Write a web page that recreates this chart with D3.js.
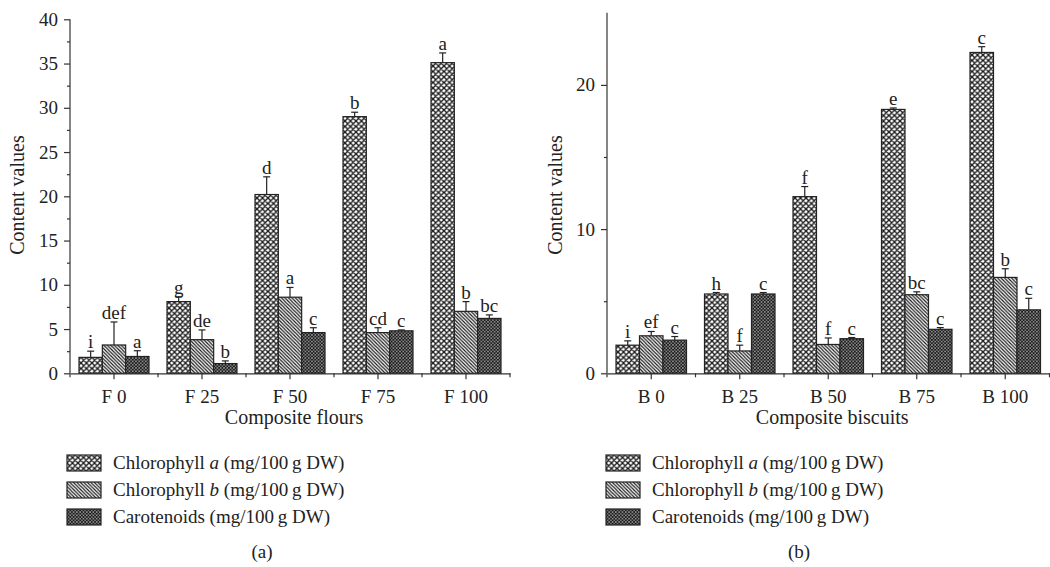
<!DOCTYPE html>
<html>
<head>
<meta charset="utf-8">
<script src="https://cdn.jsdelivr.net/npm/d3@7"></script>
<style>
  body { margin: 0; background: #fff; }
  text { font-family: "Liberation Serif", "DejaVu Serif", serif; fill: #222; }
  .domain, .tick line { stroke: #333; stroke-width: 1.2; }
</style>
</head>
<body>
<div class="container"></div>
<script>
// categories
const flourCats = ['F 0', 'F 25', 'F 50', 'F 75', 'F 100'];
const biscuitCats = ['B 0', 'B 25', 'B 50', 'B 75', 'B 100'];
const seriesKeys = ['chlA', 'chlB', 'car'];

// panel (a) composite flours
const flourChlA = [1.8, 8.1, 20.2, 29.0, 35.1];
const flourChlAErr = [0.7, 0.55, 2.0, 0.5, 1.1];
const flourChlB = [3.2, 3.8, 8.6, 4.6, 7.0];
const flourChlBErr = [2.6, 1.1, 1.1, 0.55, 1.1];
const flourCar = [1.9, 1.1, 4.6, 4.8, 6.2];
const flourCarErr = [0.65, 0.3, 0.55, 0.1, 0.4];
const flourLetters = [['i', 'def', 'a'], ['g', 'de', 'b'], ['d', 'a', 'c'], ['b', 'cd', 'c'], ['a', 'b', 'bc']];

// panel (b) composite biscuits
const biscuitChlA = [1.95, 5.5, 12.25, 18.3, 22.25];
const biscuitChlAErr = [0.3, 0.1, 0.7, 0.1, 0.4];
const biscuitChlB = [2.6, 1.55, 2.0, 5.45, 6.65];
const biscuitChlBErr = [0.3, 0.4, 0.45, 0.2, 0.6];
const biscuitCar = [2.3, 5.5, 2.4, 3.05, 4.4];
const biscuitCarErr = [0.25, 0.1, 0.08, 0.12, 0.8];
const biscuitLetters = [['i', 'ef', 'c'], ['h', 'f', 'c'], ['f', 'f', 'c'], ['e', 'bc', 'c'], ['c', 'b', 'c']];

// y ticks
const flourMajor = [0, 5, 10, 15, 20, 25, 30, 35, 40];
const flourMinor = [2.5, 7.5, 12.5, 17.5, 22.5, 27.5, 32.5, 37.5];
const biscuitMajor = [0, 10, 20];
const biscuitMinor = [5, 15];

const WIDTH = 1050;
const HEIGHT = 567;

let translate = (x, y) => `translate(${x},${y})`;

let svg = d3.select('.container').append('svg')
    .attr('width', WIDTH)
    .attr('height', HEIGHT);

// hatch patterns
let defs = svg.append('defs');

let pA = defs.append('pattern').attr('id', 'pat-chlA')
    .attr('patternUnits', 'userSpaceOnUse').attr('width', 5.5).attr('height', 5.5);
pA.append('rect').attr('width', 5.5).attr('height', 5.5).attr('fill', '#fff');
pA.append('path').attr('d', 'M0,0L5.5,5.5M5.5,0L0,5.5M-1,1L1,-1M4.5,6.5L6.5,4.5M-1,4.5L1,6.5M4.5,-1L6.5,1')
    .attr('stroke', '#1a1a1a').attr('stroke-width', 1.35);

let pB = defs.append('pattern').attr('id', 'pat-chlB')
    .attr('patternUnits', 'userSpaceOnUse').attr('width', 3.5).attr('height', 3.5);
pB.append('rect').attr('width', 3.5).attr('height', 3.5).attr('fill', '#fff');
pB.append('path').attr('d', 'M0,0L3.5,3.5M-1,2.5L1,4.5M2.5,-1L4.5,1')
    .attr('stroke', '#1a1a1a').attr('stroke-width', 1.2);

let pC = defs.append('pattern').attr('id', 'pat-car')
    .attr('patternUnits', 'userSpaceOnUse').attr('width', 3.3).attr('height', 3.3);
pC.append('rect').attr('width', 3.3).attr('height', 3.3).attr('fill', '#fff');
pC.append('path').attr('d', 'M0,0L3.3,3.3M3.3,0L0,3.3M-1,2.3L1,4.3M2.3,-1L4.3,1M-1,1L1,-1M2.3,4.3L4.3,2.3')
    .attr('stroke', '#1a1a1a').attr('stroke-width', 1.25);

const fills = {chlA: 'url(#pat-chlA)', chlB: 'url(#pat-chlB)', car: 'url(#pat-car)'};

let drawPanel = function (p) {
    let g = svg.append('g');

    let x0 = d3.scaleBand().domain(p.cats).range([p.left, p.right]);
    let x1 = d3.scaleBand().domain(seriesKeys).range([9, x0.bandwidth() - 9]);
    let y = d3.scaleLinear().domain([0, p.yMax]).range([373.3, p.top]);

    let rows = p.cats.map((c, i) => seriesKeys.map((k, j) => ({
        cat: c, key: k,
        value: p.values[j][i], err: p.errs[j][i], letter: p.letters[i][j]
    })));

    // bars
    let groups = g.selectAll('g.grp').data(rows).enter().append('g')
        .attr('class', 'grp')
        .attr('transform', d => translate(x0(d[0].cat), 0));

    groups.selectAll('rect').data(d => d).enter().append('rect')
        .attr('x', d => x1(d.key))
        .attr('y', d => y(d.value))
        .attr('width', x1.bandwidth())
        .attr('height', d => y(0) - y(d.value))
        .attr('fill', d => fills[d.key])
        .attr('stroke', '#222')
        .attr('stroke-width', 1.2);

    // error bars
    let eb = groups.selectAll('g.err').data(d => d).enter().append('g').attr('class', 'err')
        .attr('stroke', '#222').attr('stroke-width', 1.2);
    eb.append('line')
        .attr('x1', d => x1(d.key) + x1.bandwidth() / 2)
        .attr('x2', d => x1(d.key) + x1.bandwidth() / 2)
        .attr('y1', d => y(d.value))
        .attr('y2', d => y(d.value + d.err));
    eb.append('line')
        .attr('x1', d => x1(d.key) + x1.bandwidth() / 2 - 3.5)
        .attr('x2', d => x1(d.key) + x1.bandwidth() / 2 + 3.5)
        .attr('y1', d => y(d.value + d.err))
        .attr('y2', d => y(d.value + d.err));

    groups.selectAll('text.letter').data(d => d).enter().append('text')
        .attr('class', 'letter')
        .attr('x', d => x1(d.key) + x1.bandwidth() / 2)
        .attr('y', d => y(d.value + d.err) - 3)
        .attr('text-anchor', 'middle')
        .style('font-size', '19px')
        .text(d => d.letter);

    // axes
    let yAxis = d3.axisLeft(y).tickValues(p.major).tickSize(6).tickPadding(6)
        .tickFormat(d3.format('d'));
    let yMinor = d3.axisLeft(y).tickValues(p.minor).tickSize(3).tickFormat('');
    let ya = g.append('g').attr('transform', translate(p.left, 0)).call(yAxis);
    ya.selectAll('.domain').attr('d', `M0,${y(p.yMax)}V${y(0)}`);
    ya.selectAll('text').style('font-size', '19px');
    g.append('g').attr('transform', translate(p.left, 0)).call(yMinor)
        .select('.domain').remove();

    let xAxis = d3.axisBottom(x0).tickSize(6).tickPadding(10).tickSizeOuter(0);
    let xa = g.append('g').attr('transform', translate(0, y(0))).call(xAxis);
    xa.selectAll('text').style('font-size', '19px');
    let bounds = p.cats.map(c => x0(c)).concat([p.right]);
    xa.selectAll('line.minor').data(bounds).enter().append('line')
        .attr('class', 'minor')
        .attr('x1', d => d).attr('x2', d => d)
        .attr('y1', 0).attr('y2', 4)
        .attr('stroke', '#333').attr('stroke-width', 1.2);

    // titles
    g.append('text')
        .attr('x', (p.left + p.right) / 2 + 4)
        .attr('y', 424)
        .attr('text-anchor', 'middle')
        .style('font-size', '20px')
        .text(p.xTitle);

    g.append('text')
        .attr('transform', translate(p.yTitleX, 195) + ' rotate(-90)')
        .attr('text-anchor', 'middle')
        .style('font-size', '20px')
        .text('Content values');

    // legend
    const legendItems = [
        {key: 'chlA', name: 'Chlorophyll ', it: 'a'},
        {key: 'chlB', name: 'Chlorophyll ', it: 'b'},
        {key: 'car', name: 'Carotenoids', it: ''}
    ];
    let lg = g.selectAll('g.leg').data(legendItems).enter().append('g')
        .attr('class', 'leg')
        .attr('transform', (d, i) => translate(p.legX, 463 + i * 27));
    lg.append('rect')
        .attr('x', 0).attr('y', -8)
        .attr('width', 34).attr('height', 16)
        .attr('fill', d => fills[d.key])
        .attr('stroke', '#222').attr('stroke-width', 1.2);
    let lt = lg.append('text')
        .attr('x', 46).attr('y', 6)
        .style('font-size', '19px');
    lt.append('tspan').text(d => d.name);
    lt.append('tspan').style('font-style', 'italic').text(d => d.it);
    lt.append('tspan').text(' (mg/100\u2009g DW)');

    g.append('text')
        .attr('x', p.capX)
        .attr('y', 558)
        .attr('text-anchor', 'middle')
        .style('font-size', '19px')
        .text(p.caption);
};

drawPanel({
    cats: flourCats, left: 70, right: 510, top: 19.3, yMax: 40,
    values: [flourChlA, flourChlB, flourCar],
    errs: [flourChlAErr, flourChlBErr, flourCarErr],
    letters: flourLetters,
    major: flourMajor, minor: flourMinor,
    xTitle: 'Composite flours', yTitleX: 24, legX: 67, capX: 262, caption: '(a)'
});

drawPanel({
    cats: biscuitCats, left: 607, right: 1049.5, top: 12.8, yMax: 25,
    values: [biscuitChlA, biscuitChlB, biscuitCar],
    errs: [biscuitChlAErr, biscuitChlBErr, biscuitCarErr],
    letters: biscuitLetters,
    major: biscuitMajor, minor: biscuitMinor,
    xTitle: 'Composite biscuits', yTitleX: 562, legX: 606, capX: 799, caption: '(b)'
});
</script>
</body>
</html>
